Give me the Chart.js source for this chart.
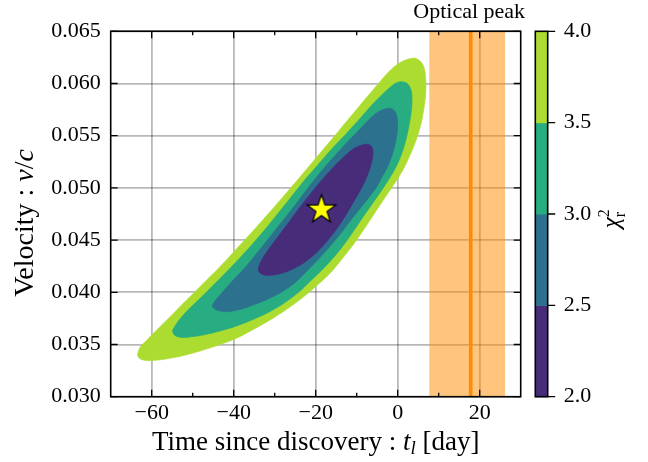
<!DOCTYPE html>
<html><head><meta charset="utf-8">
<script src="https://cdn.jsdelivr.net/npm/chart.js@4.4.1/dist/chart.umd.min.js"></script>
<style>html,body{margin:0;padding:0;background:#fff}canvas{display:block}</style>
</head><body>
<canvas id="c" width="648" height="462"></canvas>
<script>
// ---- data ----
const xTicks = [-60, -40, -20, 0, 20];
const xMinorTicks = [-50, -30, -10, 10];
const yTicks = [0.030, 0.035, 0.040, 0.045, 0.050, 0.055, 0.060, 0.065];
const cbLevels = [2.0, 2.5, 3.0, 3.5, 4.0];
const cbColors = ['#472c7a', '#2c718e', '#27ad81', '#addc30'];
const bestFit = [-18.6, 0.0480];
const peakTime = 17.8;
const peakBand = [7.7, 26.2];

// contour boundaries [t (day), v/c]
const contour40 = [[-63.5,0.03403],[-62.8,0.03476],[-61.4,0.03533],[-59.6,0.03607],[-55.5,0.03767],[-51.5,0.03926],[-47.5,0.04082],[-43.3,0.04246],[-39.2,0.04421],[-35.2,0.04591],[-31.1,0.04773],[-26.9,0.04964],[-21.4,0.05218],[-16.1,0.05465],[-10.7,0.05721],[-5.1,0.05982],[-1.6,0.06134],[1.3,0.06215],[4.0,0.06244],[4.95,0.06229],[5.8,0.0620],[6.4,0.06158],[6.7,0.0610],[6.9,0.0600],[6.78,0.0588],[6.41,0.05762],[5.68,0.05612],[4.59,0.05468],[3.24,0.05334],[1.78,0.0521],[0.2,0.0510],[-1.51,0.0500],[-4.32,0.04836],[-7.12,0.04668],[-10.0,0.04501],[-13.2,0.04338],[-16.5,0.04182],[-20.2,0.04048],[-23.8,0.0393],[-27.5,0.03826],[-31.1,0.03735],[-35.2,0.03644],[-39.3,0.0356],[-43.3,0.03499],[-47.4,0.03447],[-51.4,0.03402],[-55.5,0.03368],[-58.0,0.03353],[-60.5,0.03345],[-62.1,0.03351],[-63.1,0.03371]];
const contour35 = [[-54.9,0.03638],[-53.6,0.0372],[-51.5,0.03816],[-47.5,0.03969],[-43.6,0.04122],[-39.9,0.04271],[-36.5,0.04415],[-33.1,0.04568],[-29.7,0.04731],[-26.3,0.04898],[-22.9,0.05066],[-19.4,0.05224],[-16.0,0.05377],[-12.4,0.05526],[-9.2,0.05665],[-6.3,0.05794],[-3.8,0.05895],[-1.9,0.05962],[-0.66,0.05999],[0.56,0.06017],[1.78,0.06011],[2.76,0.05981],[3.37,0.05919],[3.49,0.05832],[3.37,0.05746],[3.0,0.0565],[2.39,0.05523],[1.66,0.05411],[0.68,0.05296],[-0.54,0.05191],[-1.88,0.051],[-3.51,0.0500],[-6.15,0.04851],[-8.95,0.04692],[-11.85,0.04525],[-15.0,0.04362],[-18.5,0.04213],[-21.9,0.04084],[-23.8,0.04012],[-27.5,0.03902],[-31.1,0.03816],[-35.3,0.03739],[-39.3,0.03677],[-43.3,0.03629],[-47.4,0.03591],[-50.7,0.03572],[-52.6,0.03567],[-54.1,0.03581],[-54.8,0.0361]];
const contour30 = [[-45.3,0.0387],[-44.3,0.03931],[-42.8,0.03998],[-40.2,0.04113],[-37.0,0.04247],[-34.1,0.04386],[-31.2,0.0453],[-28.3,0.04673],[-25.0,0.04836],[-21.9,0.04999],[-18.7,0.05157],[-15.5,0.05301],[-12.6,0.05425],[-9.9,0.05535],[-7.7,0.05626],[-5.8,0.05698],[-4.1,0.05741],[-2.3,0.05762],[-1.15,0.05751],[-0.41,0.05713],[-0.05,0.05641],[-0.05,0.05564],[-0.3,0.05487],[-0.78,0.05392],[-1.51,0.05296],[-2.49,0.0520],[-3.83,0.05104],[-5.3,0.0500],[-8.2,0.04851],[-11.4,0.04692],[-14.8,0.0452],[-18.4,0.04357],[-21.9,0.04213],[-24.3,0.04118],[-27.5,0.04022],[-31.1,0.03945],[-35.2,0.03878],[-38.5,0.03835],[-41.7,0.03814],[-43.8,0.03825],[-44.8,0.03845]];
const contour25 = [[-34.07,0.04223],[-33.6,0.04276],[-32.6,0.04348],[-31.1,0.04434],[-29.2,0.04533],[-26.5,0.04673],[-24.1,0.04803],[-21.4,0.04937],[-18.5,0.05076],[-15.5,0.05205],[-12.8,0.0531],[-10.7,0.05377],[-8.9,0.05409],[-7.6,0.05419],[-6.6,0.05406],[-6.1,0.05368],[-6.1,0.05296],[-6.6,0.0521],[-7.5,0.05109],[-8.8,0.0500],[-10.7,0.0487],[-12.7,0.04736],[-14.9,0.04606],[-17.2,0.04491],[-19.8,0.04381],[-22.6,0.0429],[-25.8,0.04218],[-28.95,0.04175],[-31.9,0.04161],[-33.1,0.04175],[-33.8,0.04194]];

// ---- helpers ----
const FONT = '"Liberation Serif", "Times New Roman", serif';
const closed = pts => pts.concat([pts[0]]).map(([x, y]) => ({x, y}));
const yMin = yTicks[0], yMax = yTicks[yTicks.length - 1];

function starCanvas(R) {
  const s = Math.ceil(2 * R + 4), c = document.createElement('canvas');
  c.width = s; c.height = s;
  const g = c.getContext('2d'), cx = s / 2, cy = s / 2 + 0.8;
  g.beginPath();
  for (let i = 0; i < 10; i++) {
    const r = i % 2 ? R * 0.39 : R, a = -Math.PI / 2 + i * Math.PI / 5;
    g.lineTo(cx + r * Math.cos(a), cy + r * Math.sin(a));
  }
  g.closePath();
  g.fillStyle = '#ffff00'; g.fill();
  g.lineWidth = 1.2; g.strokeStyle = '#000'; g.stroke();
  return c;
}

const shape = (pts, color, order) => ({
  data: closed(pts), backgroundColor: color, borderColor: color, borderWidth: 0.6, fill: 'shape',
  pointRadius: 0, tension: 0.35, order
});

function drawParts(ctx, parts, x, y, align) {
  let total = 0;
  parts.forEach(p => { ctx.font = p.f; p.w = ctx.measureText(p.t).width; total += (p.adv === false ? 0 : p.w); });
  let cx = align === 'center' ? x - total / 2 : x;
  parts.forEach(p => {
    ctx.font = p.f;
    ctx.fillText(p.t, cx + (p.dx || 0), y + (p.dy || 0));
    if (p.adv !== false) cx += p.w;
  });
}

const decor = {
  id: 'decor',
  afterDraw(chart) {
    const {ctx, chartArea: a, scales: {x, y}} = chart;
    ctx.save();
    ctx.strokeStyle = '#000';
    ctx.lineWidth = 1.3;
    ctx.beginPath();
    xTicks.forEach(v => { const p = x.getPixelForValue(v);
      ctx.moveTo(p, a.bottom); ctx.lineTo(p, a.bottom - 7); ctx.moveTo(p, a.top); ctx.lineTo(p, a.top + 7); });
    xMinorTicks.forEach(v => { const p = x.getPixelForValue(v);
      ctx.moveTo(p, a.bottom); ctx.lineTo(p, a.bottom - 4); ctx.moveTo(p, a.top); ctx.lineTo(p, a.top + 4); });
    yTicks.forEach(v => { const p = y.getPixelForValue(v);
      ctx.moveTo(a.left, p); ctx.lineTo(a.left + 7, p); ctx.moveTo(a.right, p); ctx.lineTo(a.right - 7, p); });
    ctx.stroke();
    ctx.lineWidth = 1.6;
    ctx.strokeRect(a.left, a.top, a.right - a.left, a.bottom - a.top);

    // colorbar
    const cbL = a.right + 14.6, cbR = a.right + 27;
    const lv0 = cbLevels[0], lv1 = cbLevels[cbLevels.length - 1];
    const cy = v => a.bottom - (v - lv0) / (lv1 - lv0) * (a.bottom - a.top);
    for (let i = 0; i < cbColors.length; i++) {
      ctx.fillStyle = cbColors[i];
      const y0 = cy(cbLevels[i + 1]), y1 = cy(cbLevels[i]);
      ctx.fillRect(cbL, y0, cbR - cbL, y1 - y0 + 0.5);
    }
    ctx.lineWidth = 1.6;
    ctx.strokeRect(cbL, a.top, cbR - cbL, a.bottom - a.top);
    ctx.lineWidth = 1.3;
    ctx.beginPath();
    cbLevels.forEach(v => { ctx.moveTo(cbR, cy(v)); ctx.lineTo(cbR + 7.5, cy(v)); });
    ctx.stroke();
    ctx.fillStyle = '#000';
    ctx.font = `22px ${FONT}`;
    ctx.textAlign = 'left'; ctx.textBaseline = 'middle';
    cbLevels.forEach(v => ctx.fillText(v.toFixed(1), cbR + 16, cy(v)));

    ctx.textBaseline = 'alphabetic';
    // colorbar label chi^2_r
    ctx.save();
    ctx.translate(619, (a.top + a.bottom) / 2 + 6);
    ctx.rotate(-Math.PI / 2);
    drawParts(ctx, [
      {t: 'χ', f: `italic 25px ${FONT}`},
      {t: '2', f: `16px ${FONT}`, dy: -10, adv: false},
      {t: 'r', f: `16px ${FONT}`, dy: 6}
    ], 0, 0, 'center');
    ctx.restore();

    // optical peak label
    ctx.font = `22px ${FONT}`;
    ctx.textAlign = 'center';
    ctx.fillText('Optical peak', x.getPixelForValue(peakTime) - 1.5, 18);

    // axis titles
    ctx.textAlign = 'left';
    drawParts(ctx, [
      {t: 'Time since discovery : ', f: `27px ${FONT}`},
      {t: 't', f: `italic 27px ${FONT}`},
      {t: 'l', f: `italic 19px ${FONT}`, dy: 4},
      {t: ' [day]', f: `27px ${FONT}`}
    ], (a.left + a.right) / 2, 450, 'center');
    ctx.save();
    ctx.translate(33, 223);
    ctx.rotate(-Math.PI / 2);
    drawParts(ctx, [
      {t: 'Velocity : ', f: `28px ${FONT}`},
      {t: 'v', f: `italic 28px ${FONT}`},
      {t: '/', f: `28px ${FONT}`},
      {t: 'c', f: `italic 28px ${FONT}`}
    ], 0, 0, 'center');
    ctx.restore();
    ctx.restore();
  }
};

const fmtX = v => (v < 0 ? '\u2212' + Math.abs(v) : String(v));

new Chart(document.getElementById('c'), {
  type: 'line',
  data: {
    datasets: [
      {data: [{x: bestFit[0], y: bestFit[1]}], showLine: false, pointStyle: starCanvas(15), pointRadius: 15, order: 0},
      {data: [{x: peakTime, y: yMin}, {x: peakTime, y: yMax}], borderColor: '#ff8c00', borderWidth: 3.6, pointRadius: 0, fill: false, order: 1},
      {data: closed([[peakBand[0], yMin], [peakBand[0], yMax], [peakBand[1], yMax], [peakBand[1], yMin]]),
        backgroundColor: 'rgba(255,140,0,0.5)', borderWidth: 0, fill: 'shape', pointRadius: 0, order: 2},
      shape(contour25, cbColors[0], 3),
      shape(contour30, cbColors[1], 4),
      shape(contour35, cbColors[2], 5),
      shape(contour40, cbColors[3], 6)
    ]
  },
  options: {
    responsive: false, animation: false, devicePixelRatio: 1,
    layout: {padding: {left: 0, top: 31.3, right: 127.3, bottom: 0}},
    plugins: {legend: {display: false}, tooltip: {enabled: false}},
    scales: {
      x: {
        type: 'linear', min: -70, max: 30, z: 1,
        afterBuildTicks: ax => { ax.ticks = xTicks.map(v => ({value: v})); },
        afterFit: ax => { ax.height = 65.3; },
        grid: {color: 'rgba(0,0,0,0.28)', lineWidth: 1.8, drawTicks: false},
        border: {display: false},
        ticks: {font: {family: FONT, size: 22}, color: '#000', padding: 3, maxRotation: 0, autoSkip: false, callback: fmtX}
      },
      y: {
        type: 'linear', min: yMin, max: yMax, z: 1,
        afterBuildTicks: ax => { ax.ticks = yTicks.map(v => ({value: v})); },
        afterFit: ax => { ax.width = 110.7; },
        grid: {color: 'rgba(0,0,0,0.28)', lineWidth: 1.8, drawTicks: false},
        border: {display: false},
        ticks: {font: {family: FONT, size: 22}, color: '#000', padding: 10, autoSkip: false, callback: v => v.toFixed(3)}
      }
    }
  },
  plugins: [decor]
});
</script>
</body></html>
